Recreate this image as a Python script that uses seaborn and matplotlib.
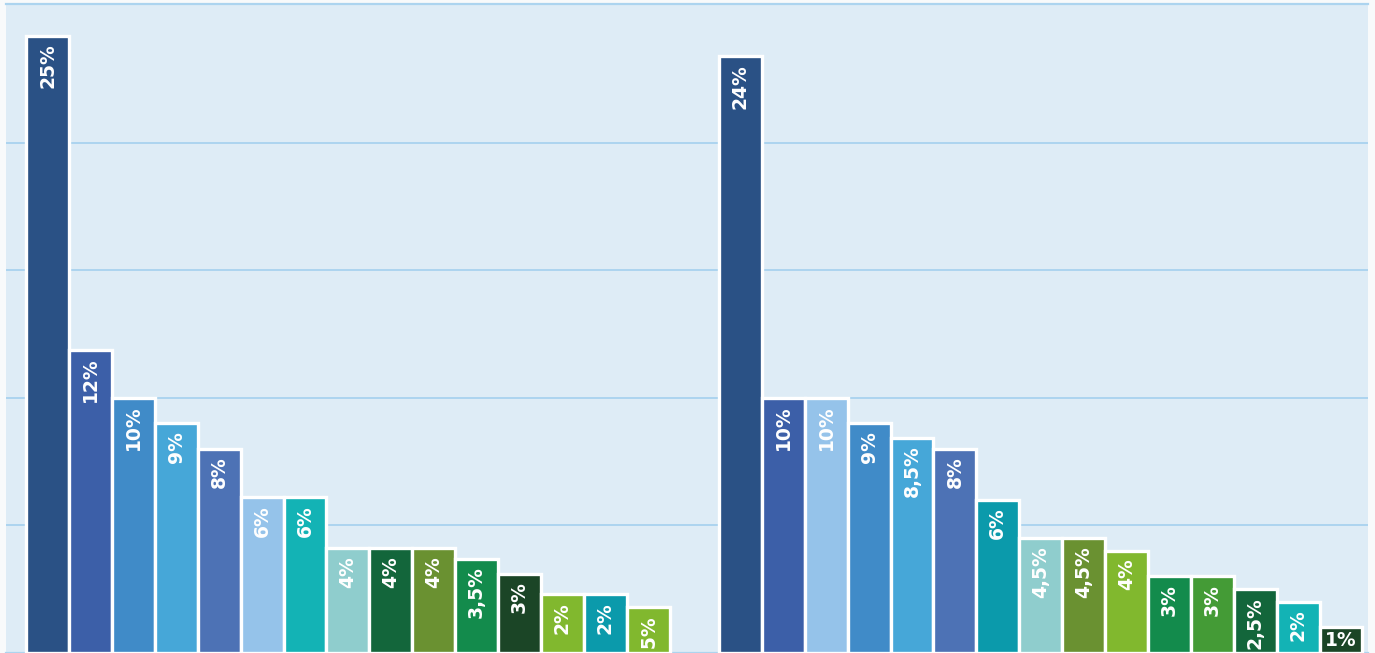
import pandas as pd
import seaborn as sns
from matplotlib import pyplot as plt

left_values = [24.2, 11.9, 10, 9, 8, 6.1, 6.1, 4.1, 4.1, 4.1, 3.7, 3.1, 2.3, 2.3, 1.8]
left_labels = ["25%", "12%", "10%", "9%", "8%", "6%", "6%", "4%", "4%", "4%",
               "3,5%", "3%", "2%", "2%", "1,5%"]
left_colors = ["#2a5185", "#3c5fa8", "#408bc8", "#46a7d8", "#4d72b5", "#95c3ea",
               "#13b3b5", "#8fcdcd", "#13663b", "#6a9131", "#138b4c", "#1b4526",
               "#81b82e", "#0b9aab", "#81b82e"]

right_values = [23.4, 10, 10, 9, 8.45, 8, 6, 4.5, 4.5, 4, 3, 3, 2.5, 2, 1]
right_labels = ["24%", "10%", "10%", "9%", "8,5%", "8%", "6%", "4,5%", "4,5%",
                "4%", "3%", "3%", "2,5%", "2%", "1%"]
right_colors = ["#2a5185", "#3c5fa8", "#95c3ea", "#408bc8", "#46a7d8", "#4d72b5",
                "#0b9aab", "#8fcdcd", "#6a9131", "#81b82e", "#138b4c", "#449b36",
                "#13663b", "#13b3b5", "#1b4526"]

GAP = 16.15  # start of the second group

xs = list(range(len(left_values))) + [GAP + i for i in range(len(right_values))]
df = pd.DataFrame({
    "pos": [round(x, 2) for x in xs],
    "value": left_values + right_values,
    "label": left_labels + right_labels,
    "color": left_colors + right_colors,
})

sns.set_theme(style="white")
plt.rcParams["font.family"] = ["DejaVu Sans"]

fig = plt.figure(figsize=(13.75, 6.53), dpi=100, facecolor="#f8fafb")
ax = fig.add_axes([6 / 1375, 0, 1362 / 1375, 1 - 4 / 653])
ax.set_facecolor("#deecf6")

palette = dict(zip(df["pos"], df["color"]))
sns.barplot(data=df, x="pos", y="value", hue="pos", palette=palette,
            native_scale=True, width=1, dodge=False, legend=False,
            edgecolor="white", linewidth=2.4, saturation=1, ax=ax, zorder=3)

for _, row in df.iterrows():
    if row["value"] < 1.2:
        ax.text(row["pos"], row["value"] / 2, row["label"], color="white",
                fontsize=13.5, fontweight="bold", ha="center", va="center",
                zorder=5, clip_on=True)
    else:
        ax.text(row["pos"], row["value"] - 0.3, row["label"], color="white",
                fontsize=13.5, fontweight="bold", ha="center", va="top",
                rotation=90, zorder=5, clip_on=True)

ax.set_xlim(-0.97, 30.78)
ax.set_ylim(0, 25.45)
ax.set_yticks([5, 10, 15, 20])
ax.yaxis.grid(True, color="#acd4ef", linewidth=1.4)
ax.set_axisbelow(True)
ax.set_xticks([])
ax.set_yticklabels([])
ax.tick_params(left=False, bottom=False)
ax.set_xlabel("")
ax.set_ylabel("")
for side in ["left", "right"]:
    ax.spines[side].set_visible(False)
for side in ["top", "bottom"]:
    ax.spines[side].set_color("#acd4ef")
    ax.spines[side].set_linewidth(1.6)

fig.savefig("out.png", dpi=100, facecolor=fig.get_facecolor())
